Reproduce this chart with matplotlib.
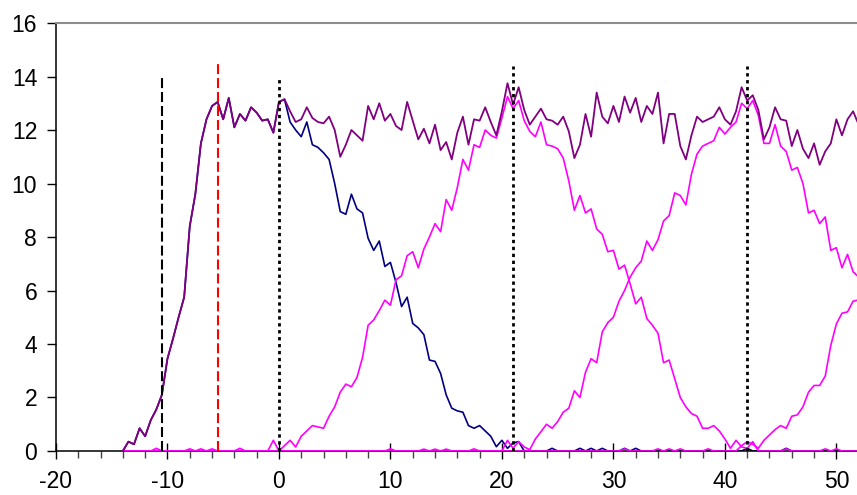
import numpy as np
import matplotlib
matplotlib.use("Agg")
import matplotlib.pyplot as plt
from matplotlib.ticker import MultipleLocator

plt.rcParams['font.family'] = ['Liberation Sans', 'DejaVu Sans']
plt.rcParams['axes.unicode_minus'] = False

# time axis, one sample every half unit from -14 to 52
t = np.arange(-14, 52.01, 0.5)

# total population (purple)
total = [
    0.0, 0.35, 0.25, 0.85, 0.55, 1.15, 1.55, 2.1, 3.45, 4.2,
    5.0, 5.75, 8.4, 9.6, 11.5, 12.4, 12.9, 13.05, 12.4, 13.2,
    12.1, 12.6, 12.35, 12.85, 12.65, 12.35, 12.4, 11.9, 13.05, 13.15,
    12.7, 12.3, 12.4, 12.85, 12.45, 12.3, 12.25, 12.5, 12.0, 11.0,
    11.45, 12.0, 11.8, 11.6, 12.9, 12.4, 13.0, 12.35, 12.6, 12.15,
    12.0, 13.05, 12.35, 11.65, 12.05, 11.5, 12.2, 11.25, 11.55, 10.9,
    11.9, 12.5, 11.45, 12.4, 12.35, 12.85, 12.3, 11.8, 12.7, 13.75,
    12.95, 13.6, 12.75, 12.2, 12.5, 12.8, 12.4, 12.35, 12.2, 12.5,
    11.95, 10.95, 11.45, 12.6, 11.75, 13.4, 12.5, 12.25, 12.9, 12.3,
    13.25, 12.65, 13.2, 12.3, 12.9, 12.6, 13.4, 11.5, 12.6, 12.6,
    11.4, 10.9, 11.8, 12.5, 12.3, 12.4, 12.5, 12.85, 12.4, 12.2,
    12.7, 13.6, 13.1, 13.3, 12.75, 11.65, 12.1, 12.85, 12.4, 12.35,
    11.4, 12.0, 11.3, 10.95, 11.5, 10.7, 11.2, 11.5, 12.4, 11.8,
    12.4, 12.7, 12.2,
]

# first population (navy)
pop1 = [
    0.0, 0.35, 0.25, 0.85, 0.55, 1.15, 1.55, 2.1, 3.45, 4.2,
    5.0, 5.75, 8.4, 9.6, 11.5, 12.4, 12.9, 13.05, 12.4, 13.2,
    12.1, 12.6, 12.35, 12.85, 12.65, 12.35, 12.4, 11.9, 13.05, 13.15,
    12.3, 12.0, 11.75, 12.3, 11.45, 11.35, 11.15, 10.9, 10.0, 8.95,
    8.85, 9.6, 9.05, 8.9, 7.95, 7.5, 7.85, 6.9, 7.05, 6.3,
    5.4, 5.75, 4.77, 4.6, 4.35, 3.4, 3.35, 2.9, 2.1, 1.6,
    1.5, 1.45, 0.95, 0.85, 0.95, 0.75, 0.55, 0.16, 0.4, 0.1,
    0.3, 0.35, 0.0, 0.0, 0.0, 0.0, 0.0, 0.1, 0.0, 0.0,
    0.0, 0.0, 0.1, 0.0, 0.1, 0.0, 0.1, 0.0, 0.0, 0.0,
    0.1, 0.0, 0.1, 0.0, 0.0, 0.0, 0.0, 0.0, 0.0, 0.0,
    0.0, 0.0, 0.0, 0.0, 0.0, 0.0, 0.0, 0.0, 0.0, 0.0,
    0.0, 0.0, 0.1, 0.0, 0.0, 0.0, 0.0, 0.0, 0.0, 0.1,
    0.0, 0.0, 0.0, 0.0, 0.0, 0.0, 0.0, 0.0, 0.0, 0.0,
    0.0, 0.0, 0.0,
]

# following populations (magenta)
pop2 = [
    0.0, 0.0, 0.0, 0.0, 0.0, 0.0, 0.1, 0.0, 0.0, 0.0,
    0.0, 0.0, 0.08, 0.0, 0.08, 0.0, 0.08, 0.0, 0.0, 0.0,
    0.0, 0.1, 0.0, 0.0, 0.0, 0.0, 0.0, 0.4, 0.0, 0.2,
    0.4, 0.15, 0.55, 0.75, 0.95, 0.9, 0.85, 1.3, 1.65, 2.2,
    2.5, 2.4, 2.75, 3.5, 4.7, 4.9, 5.25, 5.64, 5.45, 6.4,
    6.55, 7.3, 7.45, 6.85, 7.55, 8.0, 8.5, 8.2, 9.4, 9.0,
    9.85, 10.9, 10.5, 11.45, 11.35, 12.0, 11.8, 11.7, 12.45, 13.25,
    12.8, 13.1, 12.35, 11.95, 11.75, 12.3, 11.45, 11.4, 11.3, 10.95,
    10.1, 9.0, 9.55, 8.9, 9.05, 8.3, 8.1, 7.45, 7.5, 6.8,
    6.95, 6.25, 5.5, 5.75, 4.95, 4.7, 4.4, 3.3, 3.4, 2.7,
    2.0, 1.65, 1.4, 1.3, 0.85, 0.85, 0.95, 0.75, 0.45, 0.1,
    0.4, 0.15, 0.1, 0.35, 0.0, 0.0, 0.0, 0.0, 0.0, 0.08,
    0.0, 0.0, 0.0, 0.0, 0.0, 0.0, 0.08, 0.0, 0.08, 0.0,
    0.0, 0.0, 0.0,
]

pop3 = [
    0.0, 0.0, 0.0, 0.0, 0.0, 0.0, 0.0, 0.0, 0.0, 0.0,
    0.0, 0.0, 0.0, 0.0, 0.0, 0.0, 0.0, 0.0, 0.0, 0.0,
    0.0, 0.0, 0.0, 0.0, 0.0, 0.0, 0.0, 0.0, 0.0, 0.0,
    0.0, 0.0, 0.0, 0.0, 0.0, 0.0, 0.0, 0.0, 0.0, 0.0,
    0.0, 0.0, 0.0, 0.0, 0.0, 0.0, 0.0, 0.0, 0.08, 0.0,
    0.0, 0.0, 0.0, 0.0, 0.07, 0.0, 0.07, 0.0, 0.07, 0.0,
    0.0, 0.0, 0.0, 0.08, 0.0, 0.0, 0.0, 0.0, 0.0, 0.4,
    0.1, 0.35, 0.15, 0.05, 0.45, 0.72, 1.0, 0.85, 1.1, 1.45,
    1.6, 2.25, 2.0, 2.95, 3.45, 3.3, 4.45, 4.8, 5.0, 5.6,
    6.0, 6.5, 6.85, 7.1, 7.85, 7.5, 7.9, 8.6, 8.8, 9.65,
    9.55, 9.2, 10.35, 11.1, 11.4, 11.5, 11.6, 12.1, 11.85, 12.1,
    12.3, 13.0, 12.8, 13.1, 12.55, 11.5, 11.5, 12.2, 11.4, 11.2,
    10.5, 10.6, 10.0, 8.9, 9.0, 8.5, 8.75, 7.5, 7.6, 6.85,
    7.35, 6.7, 6.5,
]

pop4 = [
    0.0, 0.0, 0.0, 0.0, 0.0, 0.0, 0.0, 0.0, 0.0, 0.0,
    0.0, 0.0, 0.0, 0.0, 0.0, 0.0, 0.0, 0.0, 0.0, 0.0,
    0.0, 0.0, 0.0, 0.0, 0.0, 0.0, 0.0, 0.0, 0.0, 0.0,
    0.0, 0.0, 0.0, 0.0, 0.0, 0.0, 0.0, 0.0, 0.0, 0.0,
    0.0, 0.0, 0.0, 0.0, 0.0, 0.0, 0.0, 0.0, 0.0, 0.0,
    0.0, 0.0, 0.0, 0.0, 0.0, 0.0, 0.0, 0.0, 0.0, 0.0,
    0.0, 0.0, 0.0, 0.0, 0.0, 0.0, 0.0, 0.0, 0.0, 0.0,
    0.0, 0.0, 0.0, 0.0, 0.0, 0.0, 0.0, 0.0, 0.0, 0.0,
    0.0, 0.0, 0.0, 0.0, 0.0, 0.0, 0.0, 0.0, 0.0, 0.0,
    0.08, 0.0, 0.0, 0.0, 0.0, 0.0, 0.08, 0.0, 0.08, 0.0,
    0.08, 0.0, 0.0, 0.0, 0.0, 0.08, 0.0, 0.0, 0.0, 0.0,
    0.0, 0.2, 0.35, 0.25, 0.1, 0.4, 0.6, 0.8, 0.95, 0.85,
    1.3, 1.35, 1.65, 2.2, 2.45, 2.45, 2.8, 3.95, 4.75, 5.15,
    5.2, 5.6, 5.65,
]

# reference lines: position, top, colour, style
vline_x = [-10.5, -5.5, 0, 21, 42]
vline_top = [14.0, 14.5, 14.0, 14.4, 14.4]
vline_col = ['black', '#ff0000', 'black', 'black', 'black']
dash = (0, (4.8, 1.9))
dot = (0, (1.2, 1.3))
vline_ls = [dash, dash, dot, dot, dot]

fig = plt.figure(figsize=(8.57, 4.95), dpi=100)
ax = fig.add_axes([0.0653, 0.0889, 0.9347, 0.8646])

ax.plot(t, pop1, color='#000080', lw=1.2, zorder=2)
for p in (pop2, pop3, pop4):
    ax.plot(t, p, color='#ff00ff', lw=1.2, zorder=3)
ax.plot(t, total, color='#800080', lw=1.3, zorder=4)

for x, top, c, ls in zip(vline_x, vline_top, vline_col, vline_ls):
    lw = 1.5 if ls is dash else 2.0
    ax.plot([x, x], [0, top], color=c, lw=lw, linestyle=ls, zorder=5)

ax.set_xlim(-20, 51.85)
ax.set_ylim(0, 16)
ax.xaxis.set_major_locator(MultipleLocator(10))
ax.xaxis.set_minor_locator(MultipleLocator(2))
ax.yaxis.set_major_locator(MultipleLocator(2))

ax.spines['right'].set_visible(False)
ax.spines['top'].set_color('#8c8c8c')
ax.spines['top'].set_linewidth(1.5)
ax.spines['left'].set_linewidth(1.1)
ax.spines['bottom'].set_linewidth(1.1)
ax.spines['left'].set_zorder(1)

ax.tick_params(axis='x', which='major', direction='inout', length=11, width=1,
               pad=8, labelsize=16.5)
ax.tick_params(axis='x', which='minor', direction='out', length=5, width=1,
               color='#444444')
ax.tick_params(axis='y', which='major', direction='out', length=6.5, width=1,
               pad=7, labelsize=16.5)

plt.savefig('out.png', dpi=100)
